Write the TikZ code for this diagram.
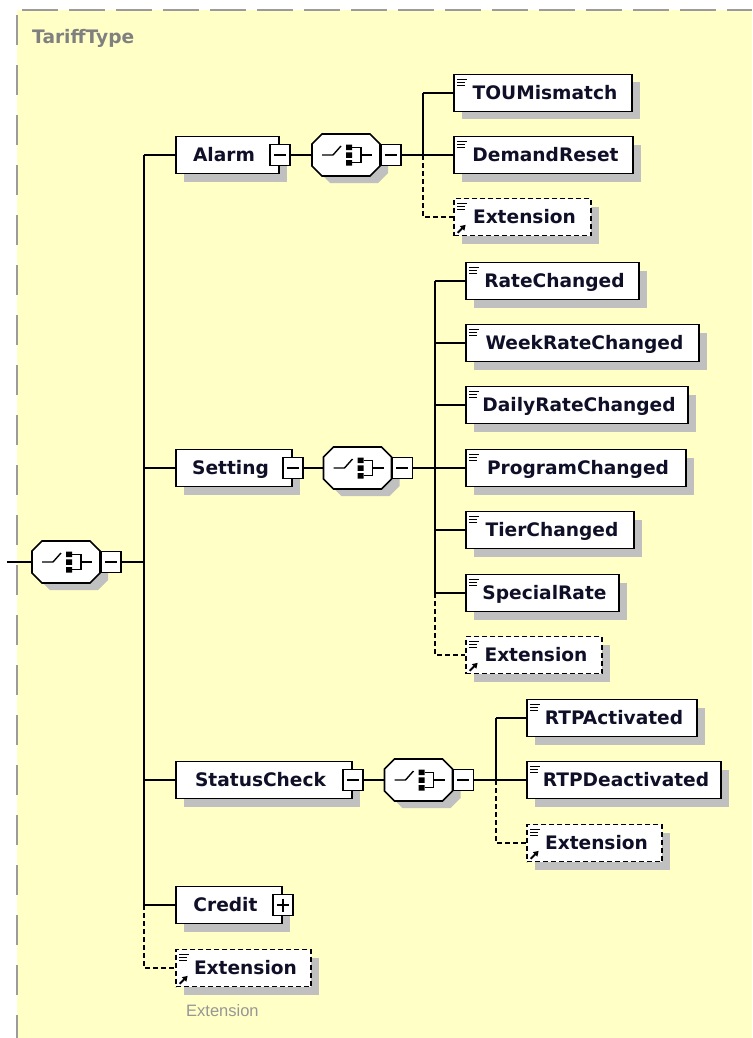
\documentclass[tikz,border=0pt]{standalone}
\usepackage{fontspec}
\setmainfont{DejaVu Sans}
\newfontfamily\notefont{Liberation Sans}
\usetikzlibrary{calc,arrows.meta,shadows}
\definecolor{bgyellow}{RGB}{255,255,198}
\definecolor{shadowgrey}{RGB}{192,192,192}
\definecolor{bordergrey}{RGB}{155,155,155}
\definecolor{nametext}{RGB}{15,15,40}
\definecolor{headgrey}{RGB}{128,128,128}
\definecolor{notegrey}{RGB}{150,150,150}
\tikzset{
  elem/.style={draw, line width=1.7pt, fill=white, minimum height=37pt, inner sep=0pt,
    text=nametext, font=\fontsize{18.6pt}{22pt}\selectfont\bfseries,
    text height=17.7pt, text depth=4.1pt,
    drop shadow={shadow xshift=8pt, shadow yshift=-8pt, fill=shadowgrey, opacity=1}},
  optelem/.style={elem, dash pattern=on 5pt off 3pt},
  toggle/.style={draw, line width=1.5pt, fill=white, minimum width=20pt, minimum height=21pt, inner sep=0pt},
  minusbox/.style={toggle, path picture={\draw[line width=1.3pt] ($(path picture bounding box.west)+(4,0)$) -- ($(path picture bounding box.east)+(-4,0)$);}},
  plusbox/.style={toggle, path picture={\draw[line width=1.3pt] ($(path picture bounding box.west)+(4,0)$) -- ($(path picture bounding box.east)+(-4,0)$) ($(path picture bounding box.north)+(0,4)$) -- ($(path picture bounding box.south)+(0,-4)$);}},
  conn/.style={line width=1.5pt, black},
  optconn/.style={line width=1.5pt, black, dash pattern=on 5pt off 3pt},
  octo/.style={line width=1.7pt, fill=white},
}
\newcommand{\seqcomp}[3]{%
\begin{scope}[shift={(#2,#3)}]
 \fill[shadowgrey, shift={(8,7)}] (-24,-21) -- (24,-21) -- (34,-11) -- (34,11) -- (24,21) -- (-24,21) -- (-34,11) -- (-34,-11) -- cycle;
 \draw[octo] (-24,-21) -- (24,-21) -- (34,-11) -- (34,11) -- (24,21) -- (-24,21) -- (-34,11) -- (-34,-11) -- cycle;
 \draw[line width=1.4pt] (-24,0) -- (-13,0) -- (-5,-9);
 \fill (0,-10.5) rectangle (6,-5) (0,-2.75) rectangle (6,2.75) (0,5) rectangle (6,10.5);
 \draw[line width=1.4pt] (6,-7.75) -- (15,-7.75) -- (15,7.75) -- (6,7.75) (15,0) -- (26,0);
 \node[inner sep=0pt, minimum width=68pt, minimum height=42pt] (#1) at (0,0) {};
\end{scope}}
\newcommand{\elemicon}[1]{\draw[line width=1.2pt] ($(#1.north west)+(4,5.5)$) -- +(10,0) ($(#1.north west)+(4,8.8)$) -- +(8,0) ($(#1.north west)+(4,12.1)$) -- +(8,0);}
\newcommand{\refarrow}[1]{\draw[line width=1.8pt, -{Triangle[length=5pt,width=6pt]}] ($(#1.south west)+(4.5,-3.5)$) -- +(8,-8);}
\begin{document}
\begin{tikzpicture}[x=1pt,y=-1pt]
\useasboundingbox (0,0) rectangle (752,1038);
% background and border
\fill[bgyellow] (17,10) rectangle (752,1038);
\draw[bordergrey, line width=1.5pt, dash pattern=on 36pt off 11pt] (22,10) -- (752,10);
\draw[bordergrey, line width=1.5pt, dash pattern=on 30pt off 20pt] (17,15) -- (17,1038);
\node[anchor=base west, inner sep=0pt, text=headgrey, font=\fontsize{18.6pt}{22pt}\selectfont\bfseries] (title) at (32,44) {TariffType};

% coordinates of buses
\coordinate (mbus) at (144,0);
\coordinate (abus) at (423,0);
\coordinate (sbus) at (435,0);
\coordinate (cbus) at (496,0);
\coordinate (lstart) at (7,562);

% main compositor
\seqcomp{mseq}{66}{562}
\node[minusbox, anchor=west] (mseqT) at (mseq.east) {};

% level 1 elements
\node[elem, minimum width=103pt] (alarm) at (227.5,155) {Alarm\hspace*{7pt}};
\node[elem, minimum width=116pt] (setting) at (234,468) {Setting\hspace*{7pt}};
\node[elem, minimum width=176pt] (status) at (264,780) {StatusCheck\hspace*{7pt}};
\node[elem, minimum width=106pt] (credit) at (229,905) {Credit\hspace*{7pt}};
\node[optelem, minimum width=135pt] (mext) at (243.5,968) {\hspace*{4pt}Extension};
\elemicon{mext}\refarrow{mext}
\node[minusbox] (alarmT) at (alarm.east) {};
\node[minusbox] (settingT) at (setting.east) {};
\node[minusbox] (statusT) at (status.east) {};
\node[plusbox] (creditT) at (credit.east) {};
\node[anchor=base west, inner sep=0pt, text=notegrey, font=\notefont\fontsize{16.5pt}{20pt}\selectfont] (extnote) at (186,1016) {Extension};

% Alarm group
\seqcomp{aseq}{346}{155}
\node[minusbox, anchor=west] (aseqT) at (aseq.east) {};
\node[elem, minimum width=178pt] (tou) at (543,93) {\hspace*{4pt}TOUMismatch};
\node[elem, minimum width=179pt] (demand) at (543.5,155) {\hspace*{4pt}DemandReset};
\node[optelem, minimum width=137pt] (aext) at (522.5,217) {\hspace*{4pt}Extension};
\elemicon{tou}\elemicon{demand}\elemicon{aext}\refarrow{aext}

% Setting group
\seqcomp{sseq}{357.5}{468}
\node[minusbox, anchor=west] (sseqT) at (sseq.east) {};
\node[elem, minimum width=173pt] (rate) at (552.5,281) {\hspace*{4pt}RateChanged};
\node[elem, minimum width=233pt] (week) at (582.5,343) {\hspace*{4pt}WeekRateChanged};
\node[elem, minimum width=222pt] (daily) at (577,405) {\hspace*{4pt}DailyRateChanged};
\node[elem, minimum width=220pt] (program) at (576,468) {\hspace*{4pt}ProgramChanged};
\node[elem, minimum width=168pt] (tier) at (550,530) {\hspace*{4pt}TierChanged};
\node[elem, minimum width=153pt] (special) at (542.5,593) {\hspace*{4pt}SpecialRate};
\node[optelem, minimum width=136pt] (sext) at (534,655) {\hspace*{4pt}Extension};
\elemicon{rate}\elemicon{week}\elemicon{daily}\elemicon{program}\elemicon{tier}\elemicon{special}\elemicon{sext}\refarrow{sext}

% StatusCheck group
\seqcomp{cseq}{418.5}{780}
\node[minusbox, anchor=west] (cseqT) at (cseq.east) {};
\node[elem, minimum width=170pt] (rtpa) at (612,718) {\hspace*{4pt}RTPActivated};
\node[elem, minimum width=194pt] (rtpd) at (624,780) {\hspace*{4pt}RTPDeactivated};
\node[optelem, minimum width=135pt] (cext) at (594.5,843) {\hspace*{4pt}Extension};
\elemicon{rtpa}\elemicon{rtpd}\elemicon{cext}\refarrow{cext}

% connectors: main
\draw[conn] (lstart) -- (mseq.west);
\draw[conn] (mseqT.east) -- (mbus |- mseqT.east);
\draw[conn] (mbus |- alarm.west) -- (mbus |- credit.west);
\foreach \n in {alarm,setting,status,credit} \draw[conn] (mbus |- \n.west) -- (\n.west);
\draw[optconn] (mbus |- credit.west) -- (mbus |- mext.west) -- (mext.west);

% connectors: Alarm
\draw[conn] (alarmT.east) -- (aseq.west);
\draw[conn] (aseqT.east) -- (abus |- aseqT.east);
\draw[conn] (abus |- tou.west) -- (abus |- demand.west);
\foreach \n in {tou,demand} \draw[conn] (abus |- \n.west) -- (\n.west);
\draw[optconn] (abus |- demand.west) -- (abus |- aext.west) -- (aext.west);

% connectors: Setting
\draw[conn] (settingT.east) -- (sseq.west);
\draw[conn] (sseqT.east) -- (sbus |- sseqT.east);
\draw[conn] (sbus |- rate.west) -- (sbus |- special.west);
\foreach \n in {rate,week,daily,program,tier,special} \draw[conn] (sbus |- \n.west) -- (\n.west);
\draw[optconn] (sbus |- special.west) -- (sbus |- sext.west) -- (sext.west);

% connectors: StatusCheck
\draw[conn] (statusT.east) -- (cseq.west);
\draw[conn] (cseqT.east) -- (cbus |- cseqT.east);
\draw[conn] (cbus |- rtpa.west) -- (cbus |- rtpd.west);
\foreach \n in {rtpa,rtpd} \draw[conn] (cbus |- \n.west) -- (\n.west);
\draw[optconn] (cbus |- rtpd.west) -- (cbus |- cext.west) -- (cext.west);
\end{tikzpicture}
\end{document}
